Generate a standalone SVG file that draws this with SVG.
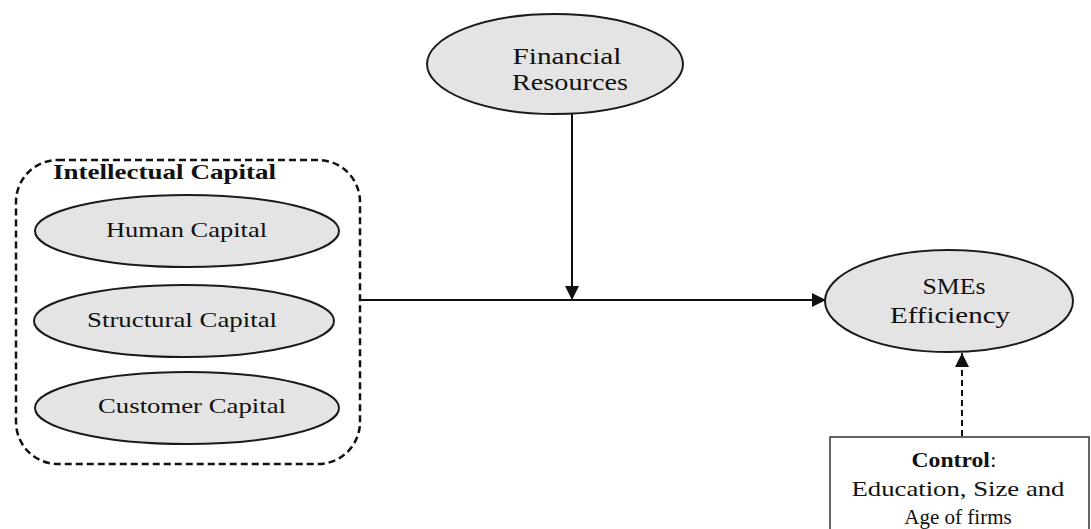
<svg xmlns="http://www.w3.org/2000/svg" width="1091" height="529" viewBox="0 0 1091 529">
<defs>
<style>
.el{fill:#e4e4e4;stroke:#1a1a1a;stroke-width:2}
.t{font-family:"Liberation Serif","DejaVu Serif",serif;fill:#111;text-anchor:middle}
.s19{font-size:21px}
.s22{font-size:24px}
.b{font-weight:bold}
.ln{stroke:#111;stroke-width:2;fill:none}
</style>
<marker id="ah2" viewBox="0 0 10 10" refX="10" refY="5" markerWidth="14" markerHeight="14" markerUnits="userSpaceOnUse" orient="auto"><path d="M0,0 L10,5 L0,10 z" fill="#111"/></marker>
</defs>
<rect width="1091" height="529" fill="#fff"/>
<g id="connectors">
<line class="ln" x1="360" y1="300" x2="826" y2="300" marker-end="url(#ah2)"/>
<line class="ln" x1="572" y1="114" x2="572" y2="300" marker-end="url(#ah2)"/>
<line class="ln" x1="962" y1="436" x2="962" y2="353" stroke-dasharray="6,4" marker-end="url(#ah2)"/>
</g>
<g id="intellectual-capital">
<rect x="16" y="160" width="344" height="304" rx="42" ry="42" fill="none" stroke="#111" stroke-width="2.5" stroke-dasharray="7,4"/>
<text class="t s19 b" x="164.5" y="179" textLength="223" lengthAdjust="spacingAndGlyphs">Intellectual Capital</text>
</g>
<g id="human-capital">
<ellipse class="el" cx="187" cy="231" rx="152" ry="36"/>
<text class="t s19" x="186.5" y="237" textLength="161" lengthAdjust="spacingAndGlyphs">Human Capital</text>
</g>
<g id="structural-capital">
<ellipse class="el" cx="184" cy="321" rx="150" ry="36"/>
<text class="t s19" x="182" y="327" textLength="190" lengthAdjust="spacingAndGlyphs">Structural Capital</text>
</g>
<g id="customer-capital">
<ellipse class="el" cx="187" cy="408" rx="152" ry="36"/>
<text class="t s19" x="192" y="413" textLength="188" lengthAdjust="spacingAndGlyphs">Customer Capital</text>
</g>
<g id="financial-resources">
<ellipse class="el" cx="555" cy="64" rx="128" ry="50"/>
<text class="t s22" x="567" y="64" textLength="109" lengthAdjust="spacingAndGlyphs">Financial</text>
<text class="t s22" x="570" y="90" textLength="116" lengthAdjust="spacingAndGlyphs">Resources</text>
</g>
<g id="smes-efficiency">
<ellipse class="el" cx="949" cy="301" rx="124" ry="51"/>
<text class="t s22" x="954" y="294" textLength="63" lengthAdjust="spacingAndGlyphs">SMEs</text>
<text class="t s22" x="950" y="323" textLength="120" lengthAdjust="spacingAndGlyphs">Efficiency</text>
</g>
<g id="control">
<rect x="830" y="437" width="259" height="100" fill="#fff" stroke="#333" stroke-width="1.5"/>
<text class="t s19" x="954" y="467" textLength="85" lengthAdjust="spacingAndGlyphs"><tspan class="b">Control</tspan>:</text>
<text class="t s19" x="958" y="496" textLength="213" lengthAdjust="spacingAndGlyphs">Education, Size and</text>
<text class="t s19" x="958" y="524">Age of firms</text>
</g>
</svg>
